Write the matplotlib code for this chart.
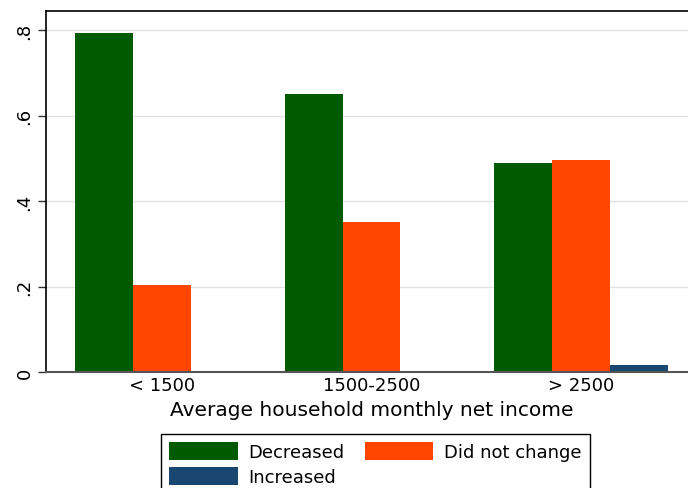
import numpy as np
import matplotlib.pyplot as plt
from matplotlib.patches import Patch

categories = ['< 1500', '1500-2500', '> 2500']
decreased = [0.794, 0.650, 0.488]
did_not_change = [0.204, 0.352, 0.497]
increased = [0.0, 0.0, 0.016]

series_names = ['Decreased', 'Did not change', 'Increased']
colors = ['#005a00', '#ff4500', '#1a476f']

W, H = 688, 489
fig = plt.figure(figsize=(W / 100, H / 100), dpi=100)
# axes box runs a bit past the right edge, like the cropped original
ax = fig.add_axes([46 / W, (H - 373) / H, (697 - 46) / W, (373 - 12) / H])

x = np.arange(len(categories))
w = 0.276
for k, (vals, col) in enumerate(zip([decreased, did_not_change, increased], colors)):
    ax.bar(x + (k - 1) * w, vals, width=w, color=col, linewidth=0, zorder=2)

ax.set_xlim(-0.552, 2.552)
ax.set_ylim(0, 0.8445)
ax.set_yticks([0, 0.2, 0.4, 0.6, 0.8])
ax.set_yticklabels(['0', '.2', '.4', '.6', '.8'], rotation=90, va='center', fontsize=13)
ax.set_xticks(x)
ax.set_xticklabels(categories, fontsize=13)
ax.tick_params(axis='x', length=0, pad=3)
ax.tick_params(axis='y', length=6, width=1, color='#333333', pad=3)
ax.grid(axis='y', color='#e1e1e1', linewidth=1, zorder=0)
ax.set_xlabel('Average household monthly net income', fontsize=14.5, labelpad=4)

for s in ['top', 'left', 'right']:
    ax.spines[s].set_color('black')
    ax.spines[s].set_linewidth(1.2)
ax.spines['bottom'].set_color('#555555')
ax.spines['bottom'].set_linewidth(1.5)

# legend fills by column, so order handles to get rows: Decreased, Did not change / Increased
order = [0, 2, 1]
handles = [Patch(facecolor=colors[i], edgecolor='none') for i in order]
labels = [series_names[i] for i in order]
leg = fig.legend(handles, labels, loc='upper left',
                 bbox_to_anchor=(161 / W, 1 - 435 / H), ncol=2, fontsize=13,
                 frameon=True, fancybox=False, framealpha=1, edgecolor='black',
                 handlelength=3.8, handleheight=1.15, handletextpad=0.6,
                 columnspacing=1.1, borderpad=0.45, labelspacing=0.3,
                 borderaxespad=0)
leg.get_frame().set_linewidth(1.0)

fig.savefig('out.png', dpi=100)
